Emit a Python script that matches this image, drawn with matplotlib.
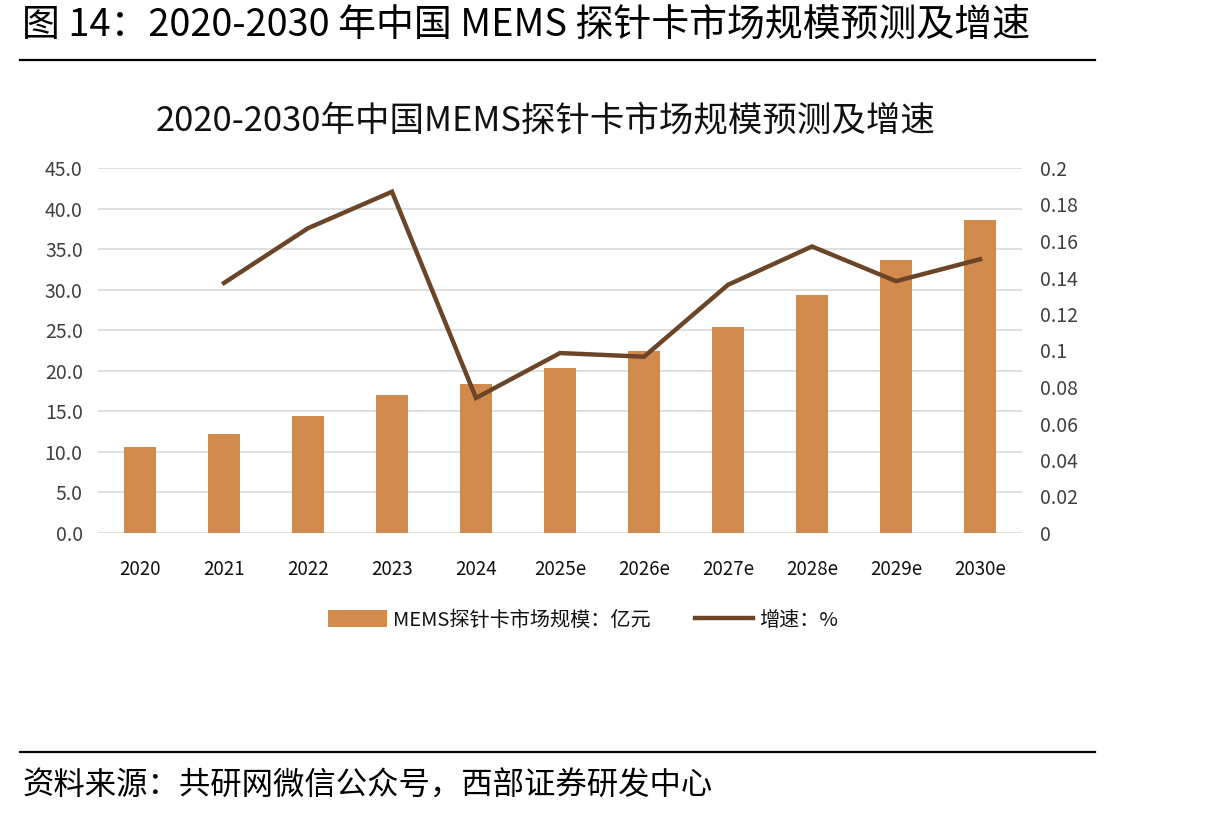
import matplotlib
matplotlib.use("Agg")
import matplotlib.pyplot as plt
from matplotlib.lines import Line2D
from matplotlib.patches import Patch

plt.rcParams['font.family'] = ['Noto Sans CJK SC', 'DejaVu Sans']

years = ["2020", "2021", "2022", "2023", "2024", "2025e", "2026e", "2027e", "2028e", "2029e", "2030e"]
market_size = [10.6, 12.2, 14.4, 17.0, 18.4, 20.3, 22.4, 25.4, 29.3, 33.6, 38.6]
growth_years = ["2021", "2022", "2023", "2024", "2025e", "2026e", "2027e", "2028e", "2029e", "2030e"]
growth = [0.137, 0.167, 0.187, 0.074, 0.0986, 0.0966, 0.136, 0.157, 0.138, 0.150]
left_ticks = [0, 5, 10, 15, 20, 25, 30, 35, 40, 45]
right_ticks = [0, 0.02, 0.04, 0.06, 0.08, 0.1, 0.12, 0.14, 0.16, 0.18, 0.2]
right_labels = ["0", "0.02", "0.04", "0.06", "0.08", "0.1", "0.12", "0.14", "0.16", "0.18", "0.2"]

W, H = 1215, 818
fig = plt.figure(figsize=(W / 100, H / 100), dpi=100)
fig.patch.set_facecolor("white")

bar_color = "#D38A4D"
line_color = "#6B4528"
tick_color = "#404040"

# plot area in pixels
x0, x1 = 98, 1022
y_top, y_bot = 168, 533
ax = fig.add_axes([x0 / W, 1 - y_bot / H, (x1 - x0) / W, (y_bot - y_top) / H])
xpos = list(range(len(years)))
ax.bar(xpos, market_size, width=0.39, color=bar_color, zorder=2)
ax.set_xlim(-0.5, len(years) - 0.5)
ax.set_ylim(0, 45)
ax.set_yticks(left_ticks)
ax.set_yticklabels([f"{v:.1f}" for v in left_ticks])
ax.set_xticks(xpos)
ax.set_xticklabels(years)
ax.grid(axis="y", color="#D9D9D9", linewidth=1.2, zorder=0)
ax.set_axisbelow(True)
for s in ax.spines.values():
    s.set_visible(False)
ax.tick_params(axis="both", length=0, labelsize=14, colors=tick_color)
ax.tick_params(axis="x", pad=19, labelsize=13.5, labelcolor="#111111")
ax.tick_params(axis="y", pad=11)

ax2 = ax.twinx()
gx = [years.index(y) for y in growth_years]
ax2.plot(gx, growth, color=line_color, linewidth=3.2, zorder=3, solid_joinstyle="miter")
ax2.set_ylim(0, 0.2)
ax2.set_yticks(right_ticks)
ax2.set_yticklabels(right_labels)
for s in ax2.spines.values():
    s.set_visible(False)
ax2.tick_params(axis="y", length=0, labelsize=14, colors=tick_color, pad=13)

# chart title
fig.text(546 / W, 1 - 122 / H, "2020-2030年中国MEMS探针卡市场规模预测及增速",
         ha="center", va="center", fontsize=24.8, color="#111111")

# legend
handles = [Patch(facecolor=bar_color, edgecolor="none"),
           Line2D([0], [0], color=line_color, linewidth=3.2)]
fig.legend(handles, ["MEMS探针卡市场规模：亿元", "增速：%"],
           loc="center", bbox_to_anchor=(583 / W, 1 - 620 / H), ncol=2, frameon=False,
           fontsize=14.5, handlelength=2.9, handleheight=0.9, columnspacing=2.2,
           handletextpad=0.3, labelcolor="#111111")

# header
fig.text(22 / W, 1 - 26 / H, "图 14：2020-2030 年中国 MEMS 探针卡市场规模预测及增速",
         ha="left", va="center", fontsize=27.3, color="#000000")
fig.add_artist(Line2D([20 / W, 1095 / W], [1 - 60 / H, 1 - 60 / H], color="black", linewidth=1.6))
fig.add_artist(Line2D([20 / W, 1095 / W], [1 - 752 / H, 1 - 752 / H], color="black", linewidth=1.6))
fig.text(22 / W, 1 - 786 / H, "资料来源：共研网微信公众号，西部证券研发中心",
         ha="left", va="center", fontsize=22.6, color="#000000")

fig.savefig("out.png", dpi=100, facecolor="white")
